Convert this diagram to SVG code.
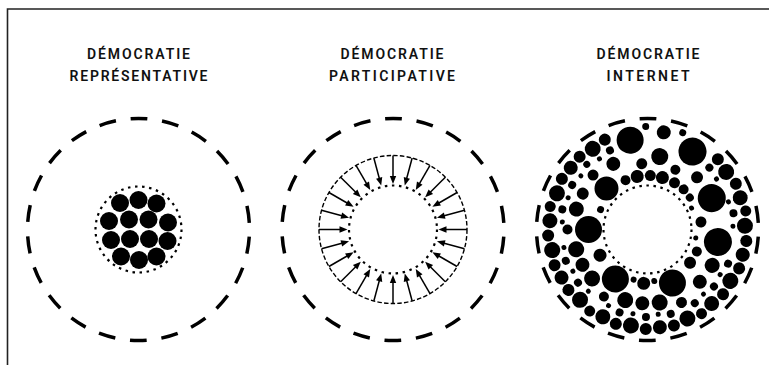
<svg xmlns="http://www.w3.org/2000/svg" xmlns:xlink="http://www.w3.org/1999/xlink" width="769" height="365" viewBox="0 0 769 365">
<style>
.outer{fill:none;stroke:#000;stroke-width:3.5;stroke-dasharray:17 14.7;stroke-dashoffset:-7.35}
.dots{fill:none;stroke:#000;stroke-width:2.2;stroke-dasharray:2.5 4.6}
.fine{fill:none;stroke:#000;stroke-width:1.4;stroke-dasharray:4.5 2.2}
.title{font-family:Roboto,"DejaVu Sans",sans-serif;font-weight:600;font-size:14px;text-anchor:middle;fill:#111}
.blob circle{fill:#000}
</style>
<defs>
<g id="arw"><line x1="74" y1="0" x2="52" y2="0" stroke="#000" stroke-width="1.5"/><polygon points="45.5,0 53.5,-3.2 53.5,3.2" fill="#000"/></g>
</defs>
<rect width="769" height="365" fill="#fff"/>
<path d="M769 9H7.5V365" fill="none" stroke="#222" stroke-width="1.6"/>

<g id="representative">
<text class="title" x="138.5" y="58.5" textLength="103" lengthAdjust="spacing">DÉMOCRATIE</text>
<text class="title" x="138.5" y="80.7" textLength="138" lengthAdjust="spacing">REPRÉSENTATIVE</text>
<circle class="outer" cx="138.5" cy="229.5" r="111"/>
<circle class="dots" cx="138.5" cy="229.5" r="43"/>
<g class="blob">
<circle cx="120" cy="203" r="9"/><circle cx="138.5" cy="200" r="9"/><circle cx="156.5" cy="203.5" r="9"/>
<circle cx="109" cy="221" r="9"/><circle cx="129" cy="219.5" r="9"/><circle cx="148.5" cy="219.5" r="9"/><circle cx="168" cy="222.5" r="9"/>
<circle cx="111" cy="240" r="9"/><circle cx="130" cy="239" r="9"/><circle cx="149" cy="239" r="9"/><circle cx="167.5" cy="241" r="9"/>
<circle cx="121" cy="256.5" r="9"/><circle cx="139" cy="260" r="9"/><circle cx="156.5" cy="256.5" r="9"/>
</g>
</g>

<g id="participative">
<text class="title" x="392" y="58.5" textLength="103" lengthAdjust="spacing">DÉMOCRATIE</text>
<text class="title" x="392" y="80.7" textLength="126" lengthAdjust="spacing">PARTICIPATIVE</text>
<circle class="outer" cx="393" cy="229.5" r="111"/>
<circle class="fine" cx="393" cy="229.5" r="74"/>
<circle class="dots" cx="393" cy="229.5" r="44"/>
</g>

<g id="connectors" transform="translate(393 229.5)">
<use xlink:href="#arw" transform="rotate(0)"/><use xlink:href="#arw" transform="rotate(15)"/><use xlink:href="#arw" transform="rotate(30)"/><use xlink:href="#arw" transform="rotate(45)"/>
<use xlink:href="#arw" transform="rotate(60)"/><use xlink:href="#arw" transform="rotate(75)"/><use xlink:href="#arw" transform="rotate(90)"/><use xlink:href="#arw" transform="rotate(105)"/>
<use xlink:href="#arw" transform="rotate(120)"/><use xlink:href="#arw" transform="rotate(135)"/><use xlink:href="#arw" transform="rotate(150)"/><use xlink:href="#arw" transform="rotate(165)"/>
<use xlink:href="#arw" transform="rotate(180)"/><use xlink:href="#arw" transform="rotate(195)"/><use xlink:href="#arw" transform="rotate(210)"/><use xlink:href="#arw" transform="rotate(225)"/>
<use xlink:href="#arw" transform="rotate(240)"/><use xlink:href="#arw" transform="rotate(255)"/><use xlink:href="#arw" transform="rotate(270)"/><use xlink:href="#arw" transform="rotate(285)"/>
<use xlink:href="#arw" transform="rotate(300)"/><use xlink:href="#arw" transform="rotate(315)"/><use xlink:href="#arw" transform="rotate(330)"/><use xlink:href="#arw" transform="rotate(345)"/>
</g>

<g id="internet">
<text class="title" x="648" y="58.5" textLength="103" lengthAdjust="spacing">DÉMOCRATIE</text>
<text class="title" x="648" y="80.7" textLength="83" lengthAdjust="spacing">INTERNET</text>
<circle class="outer" cx="647.5" cy="229.5" r="111"/>
<circle class="dots" cx="647.5" cy="229.5" r="44"/>
<g class="blob" transform="translate(647.5 229.5)">
<circle cx="91" r="13.5" transform="rotate(259)"/>
<circle cx="90" r="14" transform="rotate(300)"/>
<circle cx="58" r="12" transform="rotate(225)"/>
<circle cx="71.5" r="14" transform="rotate(334)"/>
<circle cx="59" r="13.5" transform="rotate(180)"/>
<circle cx="71.5" r="14" transform="rotate(10)"/>
<circle cx="59" r="13.5" transform="rotate(123)"/>
<circle cx="59" r="13.5" transform="rotate(65)"/>

<circle cx="54" r="5" transform="rotate(24)"/>
<circle cx="54" r="6" transform="rotate(38)"/>
<circle cx="52" r="3" transform="rotate(82.5)"/>
<circle cx="54" r="6.5" transform="rotate(94)"/>
<circle cx="52" r="3" transform="rotate(105.5)"/>
<circle cx="54" r="6.5" transform="rotate(151.5)"/>
<circle cx="51" r="3.5" transform="rotate(203)"/>
<circle cx="54" r="5" transform="rotate(246)"/>
<circle cx="54" r="6.5" transform="rotate(259)"/>
<circle cx="54" r="5.5" transform="rotate(273)"/>
<circle cx="54" r="6.5" transform="rotate(286)"/>
<circle cx="54" r="5.5" transform="rotate(300)"/>
<circle cx="54" r="5" transform="rotate(312)"/>
<circle cx="53" r="4" transform="rotate(323)"/>
<circle cx="54" r="5.5" transform="rotate(352)"/>
<circle cx="49" r="2.5" transform="rotate(334)"/>
<circle cx="49" r="2.5" transform="rotate(10)"/>

<circle cx="74" r="7.5" transform="rotate(29)"/>
<circle cx="74" r="7" transform="rotate(45)"/>
<circle cx="74" r="8" transform="rotate(80.5)"/>
<circle cx="74" r="7" transform="rotate(94)"/>
<circle cx="74" r="8" transform="rotate(107.5)"/>
<circle cx="74" r="8" transform="rotate(138.5)"/>
<circle cx="74" r="7" transform="rotate(151.5)"/>
<circle cx="74" r="8" transform="rotate(164.5)"/>
<circle cx="74" r="7.5" transform="rotate(196)"/>
<circle cx="74" r="6" transform="rotate(209)"/>
<circle cx="74" r="7" transform="rotate(242.5)"/>
<circle cx="74" r="8.5" transform="rotate(279.5)"/>
<circle cx="72" r="6" transform="rotate(313.5)"/>
<circle cx="66" r="5" transform="rotate(295)"/>
<circle cx="66" r="5.5" transform="rotate(265)"/>
<circle cx="80.5" r="5.5" transform="rotate(65)"/>
<circle cx="80" r="5" transform="rotate(123)"/>
<circle cx="80" r="5" transform="rotate(180)"/>
<circle cx="77" r="5.5" transform="rotate(225)"/>

<circle cx="87.5" r="4" transform="rotate(315)"/>
<circle cx="87.5" r="4" transform="rotate(349.3)"/>
<circle cx="87.5" r="4" transform="rotate(23)"/>
<circle cx="87.5" r="4" transform="rotate(40.6)"/>
<circle cx="87.5" r="4" transform="rotate(57.3)"/>
<circle cx="87.5" r="4" transform="rotate(74.6)"/>
<circle cx="87.5" r="4" transform="rotate(91)"/>
<circle cx="87.5" r="4" transform="rotate(108.6)"/>
<circle cx="87.5" r="4" transform="rotate(142.6)"/>
<circle cx="87.5" r="4" transform="rotate(159)"/>
<circle cx="87.5" r="4" transform="rotate(193.3)"/>
<circle cx="87.5" r="4" transform="rotate(210.6)"/>
<circle cx="89" r="3.5" transform="rotate(227)"/>
<circle cx="87.5" r="4" transform="rotate(244.6)"/>
<circle cx="85.5" r="2.5" transform="rotate(323.8)"/>
<circle cx="85.5" r="2.5" transform="rotate(341.1)"/>
<circle cx="85.5" r="2.5" transform="rotate(357.8)"/>
<circle cx="85.5" r="2.5" transform="rotate(31.8)"/>
<circle cx="85.5" r="2.5" transform="rotate(49.1)"/>
<circle cx="85.5" r="2.5" transform="rotate(82.8)"/>
<circle cx="85.5" r="2.5" transform="rotate(99.8)"/>
<circle cx="85.5" r="2.5" transform="rotate(117.1)"/>
<circle cx="85.5" r="2.5" transform="rotate(133.8)"/>
<circle cx="85.5" r="2.5" transform="rotate(150.8)"/>
<circle cx="85.5" r="2.5" transform="rotate(167.8)"/>
<circle cx="85.5" r="2.5" transform="rotate(185.1)"/>
<circle cx="85.5" r="2.5" transform="rotate(201.8)"/>
<circle cx="85.5" r="2.5" transform="rotate(218.8)"/>
<circle cx="85.5" r="2.5" transform="rotate(235.8)"/>

<circle cx="99.5" r="6" transform="rotate(315)"/>
<circle cx="97.5" r="8" transform="rotate(323.8)"/>
<circle cx="99.5" r="6" transform="rotate(332.6)"/>
<circle cx="98" r="7.5" transform="rotate(341.1)"/>
<circle cx="100" r="5.5" transform="rotate(349.3)"/>
<circle cx="97.5" r="8" transform="rotate(357.8)"/>
<circle cx="99.5" r="6" transform="rotate(6.6)"/>
<circle cx="98.5" r="7" transform="rotate(14.8)"/>
<circle cx="99.5" r="6" transform="rotate(23)"/>
<circle cx="97.5" r="8" transform="rotate(31.8)"/>
<circle cx="99.5" r="6" transform="rotate(40.6)"/>
<circle cx="98" r="7.5" transform="rotate(49.1)"/>
<circle cx="100" r="5.5" transform="rotate(57.3)"/>
<circle cx="97.5" r="8" transform="rotate(65.8)"/>
<circle cx="99.5" r="6" transform="rotate(74.6)"/>
<circle cx="98.5" r="7" transform="rotate(82.8)"/>
<circle cx="99.5" r="6" transform="rotate(91)"/>
<circle cx="97.5" r="8" transform="rotate(99.8)"/>
<circle cx="99.5" r="6" transform="rotate(108.6)"/>
<circle cx="98" r="7.5" transform="rotate(117.1)"/>
<circle cx="100" r="5.5" transform="rotate(125.3)"/>
<circle cx="97.5" r="8" transform="rotate(133.8)"/>
<circle cx="99.5" r="6" transform="rotate(142.6)"/>
<circle cx="98.5" r="7" transform="rotate(150.8)"/>
<circle cx="99.5" r="6" transform="rotate(159)"/>
<circle cx="97.5" r="8" transform="rotate(167.8)"/>
<circle cx="99.5" r="6" transform="rotate(176.6)"/>
<circle cx="98" r="7.5" transform="rotate(185.1)"/>
<circle cx="100" r="5.5" transform="rotate(193.3)"/>
<circle cx="97.5" r="8" transform="rotate(201.8)"/>
<circle cx="99.5" r="6" transform="rotate(210.6)"/>
<circle cx="98.5" r="7" transform="rotate(218.8)"/>
<circle cx="99.5" r="6" transform="rotate(227)"/>
<circle cx="97.5" r="8" transform="rotate(235.8)"/>
<circle cx="99.5" r="6" transform="rotate(244.6)"/>
<circle cx="98.5" r="7" transform="rotate(279.5)"/>
<circle cx="103" r="3.5" transform="rotate(269)"/>
<circle cx="103" r="3.5" transform="rotate(290)"/>
</g>
</g>
</svg>
